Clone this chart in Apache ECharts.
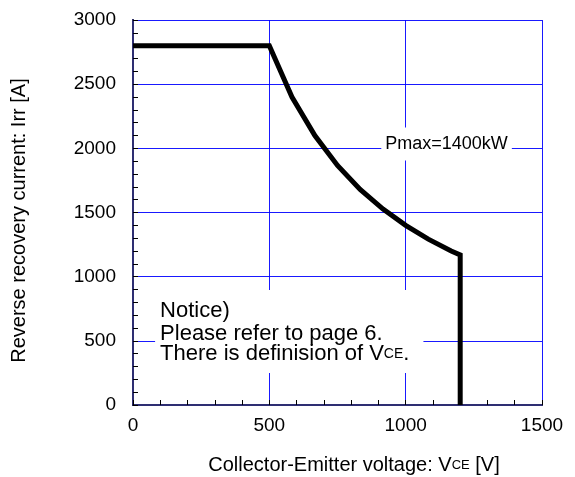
<!DOCTYPE html>
<html>
<head>
<meta charset="utf-8">
<script src="https://cdn.jsdelivr.net/npm/echarts@6/dist/echarts.min.js"></script>
<style>html,body{margin:0;padding:0;background:#fff;}#c{width:575px;height:477px;}</style>
</head>
<body>
<div id="c"></div>
<script>
const voltage = [0, 500, 583, 667, 750, 833, 917, 1000, 1083, 1167, 1200, 1200];
const current = [2800, 2800, 2400, 2100, 1867, 1680, 1527, 1400, 1292, 1200, 1170, 0];
const xTicks = [0, 500, 1000, 1500];
const yTicks = [0, 500, 1000, 1500, 2000, 2500, 3000];
const pmaxNote = { x: 1150, y: 2034, text: 'Pmax=1400kW' };
const notice = { x: 81, y: 896, text: '{a|Notice)}\n{b|Please refer to page 6.}\n{c|There is definision of V}{s|CE}{c|.}' };

const FONT = '"Liberation Sans", Arial, sans-serif';
const chart = echarts.init(document.getElementById('c'), null, { renderer: 'canvas' });
const gridBlue = '#0000ff';
const frame = '#2e2e72';

chart.setOption({
  animation: false,
  backgroundColor: '#ffffff',
  grid: { left: 133, right: 33, top: 20, bottom: 72, outerBoundsMode: 'none', containLabel: false },
  xAxis: [{
    type: 'value', min: 0, max: 1500, interval: 500,
    name: 'Collector-Emitter voltage: V{s|CE} [V]', nameLocation: 'middle', nameGap: 50,
    nameTextStyle: { fontFamily: FONT, fontSize: 20, color: '#000', padding: [0, 0, 0, 33],
      rich: { s: { fontFamily: FONT, fontSize: 13, color: '#000' } } },
    axisLine: { lineStyle: { color: '#000', width: 2 } },
    axisTick: { inside: true, length: 5, lineStyle: { color: '#000' } },
    minorTick: { show: true, splitNumber: 5, length: 5, lineStyle: { color: '#000' } },
    splitLine: { show: true, lineStyle: { color: gridBlue, width: 1, opacity: 0.9 } },
    axisLabel: { fontFamily: FONT, fontSize: 19, color: '#000', margin: 11,
      formatter: v => xTicks.includes(v) ? String(v) : '' }
  }, {
    type: 'value', min: 0, max: 1500, position: 'top',
    axisLine: { show: true, lineStyle: { color: frame, width: 2 } },
    axisTick: { show: false }, axisLabel: { show: false }, splitLine: { show: false }
  }],
  yAxis: [{
    type: 'value', min: 0, max: 3000, interval: 500,
    name: 'Reverse recovery current: Irr [A]', nameLocation: 'middle', nameGap: 104,
    nameTextStyle: { fontFamily: FONT, fontSize: 20, color: '#000', padding: [0, 16, 0, 0] },
    axisLine: { show: true, lineStyle: { color: '#000', width: 2 } },
    axisTick: { show: true, inside: true, length: 5, lineStyle: { color: '#000' } },
    minorTick: { show: true, splitNumber: 5, length: 5, lineStyle: { color: '#000' } },
    splitLine: { show: true, lineStyle: { color: gridBlue, width: 1, opacity: 0.9 } },
    axisLabel: { fontFamily: FONT, fontSize: 19, color: '#000', margin: 17,
      formatter: v => yTicks.includes(v) ? String(v) : '' }
  }, {
    type: 'value', min: 0, max: 3000, position: 'right',
    axisLine: { show: true, lineStyle: { color: frame, width: 2 } },
    axisTick: { show: false }, axisLabel: { show: false }, splitLine: { show: false }
  }],
  series: [{
    type: 'line', z: 5,
    data: voltage.map((v, i) => [v, current[i]]),
    showSymbol: false, symbol: 'none',
    lineStyle: { color: '#000', width: 5, join: 'miter' }
  }, {
    type: 'scatter', z: 3, symbolSize: 0, silent: true,
    itemStyle: { opacity: 1 },
    data: [[pmaxNote.x, pmaxNote.y]],
    label: { show: true, position: 'inside', formatter: pmaxNote.text, opacity: 1,
      fontFamily: FONT, fontSize: 18, color: '#000', backgroundColor: '#fff',
      padding: [7, 4, 8, 4] }
  }, {
    type: 'scatter', z: 3, symbolSize: 0, silent: true,
    itemStyle: { opacity: 1 },
    data: [[notice.x, notice.y]],
    label: { show: true, position: 'inside', align: 'left', verticalAlign: 'top', formatter: notice.text, opacity: 1,
      fontFamily: FONT, fontSize: 22, color: '#000', backgroundColor: '#fff',
      padding: [9, 14, 10, 5],
      rich: {
        a: { fontFamily: FONT, fontSize: 22, color: '#000', lineHeight: 24 },
        b: { fontFamily: FONT, fontSize: 22, color: '#000', lineHeight: 22 },
        c: { fontFamily: FONT, fontSize: 22, color: '#000', lineHeight: 18 },
        s: { fontFamily: FONT, fontSize: 14, color: '#000', lineHeight: 18 }
      } }
  }]
});
</script>
</body>
</html>
